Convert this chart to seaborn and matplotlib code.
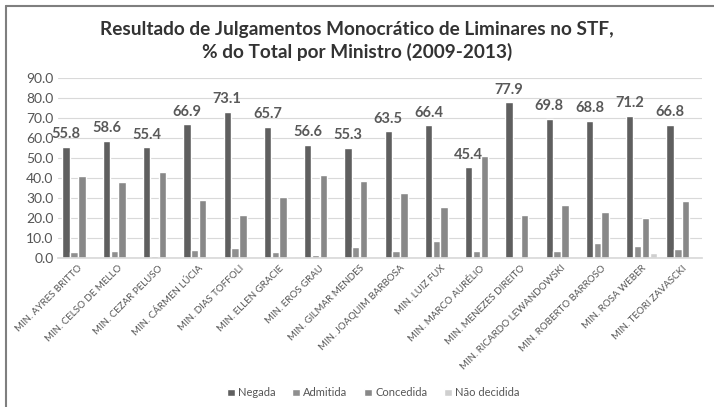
import pandas as pd
import seaborn as sns
import matplotlib.pyplot as plt
from matplotlib.lines import Line2D

# Data
ministros = ["MIN. AYRES BRITTO", "MIN. CELSO DE MELLO", "MIN. CEZAR PELUSO", "MIN. CÁRMEN LÚCIA",
             "MIN. DIAS TOFFOLI", "MIN. ELLEN GRACIE", "MIN. EROS GRAU", "MIN. GILMAR MENDES",
             "MIN. JOAQUIM BARBOSA", "MIN. LUIZ FUX", "MIN. MARCO AURÉLIO", "MIN. MENEZES DIREITO",
             "MIN. RICARDO LEWANDOWSKI", "MIN. ROBERTO BARROSO", "MIN. ROSA WEBER", "MIN. TEORI ZAVASCKI"]
negada = [55.8, 58.6, 55.4, 66.9, 73.1, 65.7, 56.6, 55.3, 63.5, 66.4, 45.4, 77.9, 69.8, 68.8, 71.2, 66.8]
admitida = [3.0, 3.4, 1.0, 3.9, 5.2, 3.0, 1.3, 5.5, 3.4, 8.4, 3.4, 0.0, 3.7, 7.7, 5.9, 4.5]
concedida = [40.8, 38.0, 43.2, 29.0, 21.3, 30.6, 41.7, 38.7, 32.5, 25.3, 50.9, 21.4, 26.3, 23.1, 19.9, 28.4]
nao_decidida = [0.0, 0.0, 0.0, 0.0, 0.0, 0.5, 0.0, 0.0, 0.0, 0.0, 0.3, 0.5, 0.0, 0.0, 2.5, 0.0]
series = ["Negada", "Admitida", "Concedida", "Não decidida"]

df = pd.DataFrame({"ministro": ministros, "Negada": negada, "Admitida": admitida,
                   "Concedida": concedida, "Não decidida": nao_decidida})
long = df.melt(id_vars="ministro", var_name="resultado", value_name="pct")

sns.set_theme(style="white")
plt.rcParams["font.family"] = ["Lato", "DejaVu Sans"]

fig = plt.figure(figsize=(7.14, 4.07), dpi=100)
ax = fig.add_axes([0.081, 0.366, 0.902, 0.442])

colors = ["#5f5f5f", "#8f8f8f", "#888888", "#cfcfcf"]
sns.barplot(data=long, x="ministro", y="pct", hue="resultado", hue_order=series,
            palette=colors, width=0.78, gap=0.06, ax=ax, legend=True)

# labels only on Negada bars
ax.bar_label(ax.containers[0], fmt="%.1f", padding=4, fontsize=10.5,
             fontweight="bold", color="#595959")

ax.set_ylim(0, 90)
ax.set_yticks(range(0, 91, 10))
ax.set_yticklabels([f"{v:.1f}" for v in range(0, 91, 10)], fontsize=10, color="#555555")
ax.yaxis.grid(True, color="#d9d9d9", linewidth=0.8)
ax.set_axisbelow(True)
ax.set_xlim(-0.5, len(ministros) - 0.5)
ax.set_xticks(range(len(ministros)))
ax.set_xticklabels(ministros, rotation=45, ha="right", rotation_mode="anchor",
                   fontsize=7.0, color="#555555")
ax.tick_params(axis="y", length=0, pad=3)
ax.tick_params(axis="x", length=0, pad=4)
ax.set_xlabel("")
ax.set_ylabel("")
for s in ["top", "right", "left"]:
    ax.spines[s].set_visible(False)
ax.spines["bottom"].set_color("#d9d9d9")

ax.legend(loc="center", bbox_to_anchor=(0.49, -0.75), ncol=4, frameon=False,
          fontsize=8, labelcolor="#555555", handlelength=0.7, handleheight=0.7,
          handletextpad=0.3, columnspacing=1.5)

fig.text(0.5, 0.9, "Resultado de Julgamentos Monocrático de Liminares no STF,\n% do Total por Ministro (2009-2013)",
         ha="center", va="center", fontsize=13.7, fontweight="bold", color="#333333", linespacing=1.3)

# chart frame: only left and top edges are visible in the source
fig.add_artist(Line2D([0.008, 0.008], [0.0, 0.986], transform=fig.transFigure, color="#7f7f7f", linewidth=1.5))
fig.add_artist(Line2D([0.008, 1.0], [0.986, 0.986], transform=fig.transFigure, color="#7f7f7f", linewidth=1.5))

fig.savefig("out.png", dpi=100)
